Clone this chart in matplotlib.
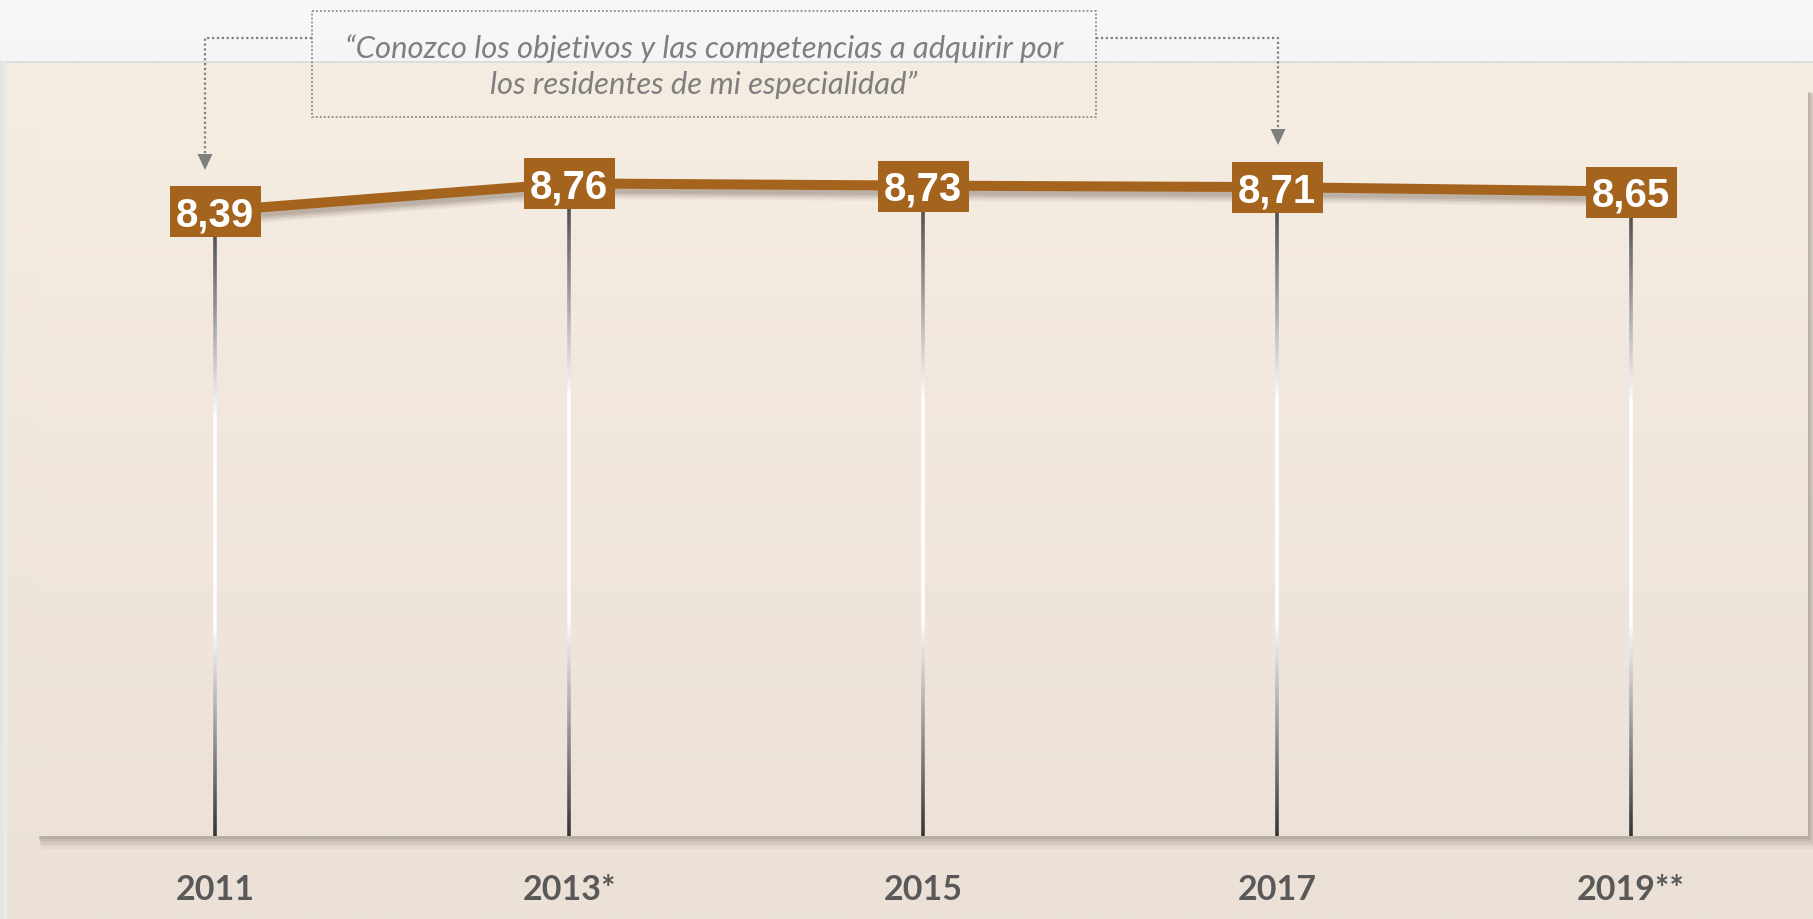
import numpy as np
import matplotlib
matplotlib.use('Agg')
import matplotlib.pyplot as plt
import matplotlib.colors as mcolors
import matplotlib.transforms as mtransforms
from matplotlib.path import Path
from matplotlib.patches import Rectangle, Polygon
from matplotlib.collections import LineCollection

# ---------------- data ----------------
years = ['2011', '2013*', '2015', '2017', '2019**']
values = [8.39, 8.76, 8.73, 8.71, 8.65]
value_labels = ['8,39', '8,76', '8,73', '8,71', '8,65']
quote_text = ("\u201cConozco los objetivos y las competencias a adquirir por\n"
              "los residentes de mi especialidad\u201d")

# ---------------- styles ----------------
W, H = 1813, 920
ORANGE = '#A5641E'
GREY_TXT = '#595959'
QUOTE_C = '#7F7F7F'

fig = plt.figure(figsize=(W / 100, H / 100), dpi=100)

# background axes in pixel coordinates (y downward)
bg = fig.add_axes([0, 0, 1, 1], zorder=0)
bg.set_axis_off()


def vgrad(ax, x0, x1, y0, y1, c_top, c_bot, z):
    ct = np.array(mcolors.to_rgb(c_top))
    cb = np.array(mcolors.to_rgb(c_bot))
    t = np.linspace(0, 1, 256)[:, None]
    img = (ct * (1 - t) + cb * t)[:, None, :]
    ax.imshow(img, extent=(x0, x1, y1, y0), aspect='auto', origin='upper',
              zorder=z, interpolation='bilinear')


def hgrad(ax, x0, x1, y0, y1, c_l, c_r, z):
    cl = np.array(mcolors.to_rgb(c_l))
    cr = np.array(mcolors.to_rgb(c_r))
    t = np.linspace(0, 1, 64)[None, :]
    img = (cl[None, None, :] * (1 - t)[..., None] + cr[None, None, :] * t[..., None])
    ax.imshow(img, extent=(x0, x1, y1, y0), aspect='auto', origin='upper',
              zorder=z, interpolation='bilinear')


# page background
vgrad(bg, 0, W, 0, 62, '#F9F9F9', '#F5F5F5', 0)
hgrad(bg, 0, 7, 62, H, '#E2E2E2', '#EDEDED', 0)
vgrad(bg, 7, W, 62, H, '#F5ECE2', '#EBE1D6', 1)
bg.plot([7, W], [62.5, 62.5], color='#DADADA', lw=1.2, zorder=2)

# inner panel with soft shadow
px0, px1, py0, py1 = 38, 1808, 92, 837
for d, a in [(10, 0.05), (8, 0.07), (6, 0.09), (4, 0.12), (2, 0.15)]:
    bg.add_patch(Rectangle((px0 + d * 0.3, py0 + d * 0.3), px1 - px0 + d * 0.7,
                           py1 - py0 + d, facecolor='#6F6357', alpha=a,
                           edgecolor='none', zorder=2))
vgrad(bg, px0, px1, py0, py1, '#F5ECE2', '#ECE2D7', 3)

# quote box with dotted connectors
bg.add_patch(Rectangle((312, 12), 1096 - 312, 118 - 12, facecolor='none',
                       edgecolor='#8C8C8C', lw=1.3, linestyle=(0, (1, 1.2)),
                       zorder=5))
bg.text(704, 67, quote_text, ha='center', va='center', color=QUOTE_C,
        fontsize=22.3, style='italic', family='Lato', linespacing=1.32,
        zorder=6)
bg.plot([312, 205, 205], [39, 39, 156], color='#7F7F7F', lw=1.6,
        linestyle=(0, (1, 1.2)), zorder=5)
bg.add_patch(Polygon([[197.5, 155], [212.5, 155], [205, 171]], closed=True,
                     facecolor='#7F7F7F', edgecolor='none', zorder=5))
bg.plot([1096, 1278, 1278], [39, 39, 131], color='#7F7F7F', lw=1.6,
        linestyle=(0, (1, 1.2)), zorder=5)
bg.add_patch(Polygon([[1270.5, 130], [1285.5, 130], [1278, 146]], closed=True,
                     facecolor='#7F7F7F', edgecolor='none', zorder=5))
bg.set_xlim(0, W)
bg.set_ylim(H, 0)

# ---------------- main chart ----------------
ax = fig.add_axes([px0 / W, (H - py1) / H, (px1 - px0) / W, (py1 - py0) / H],
                  zorder=2)
ax.set_facecolor('none')
ax.set_xlim(-0.5, len(years) - 0.5)
ax.set_ylim(0, 10)
for s in ax.spines.values():
    s.set_visible(False)
ax.set_yticks([])
x = np.arange(len(years))
ax.set_xticks(x)
ax.set_xticklabels(years)
ax.tick_params(axis='x', length=0, pad=27, labelsize=24.5, labelcolor=GREY_TXT)
for lbl in ax.get_xticklabels():
    lbl.set_fontfamily('Lato')
    lbl.set_fontweight('bold')

px_per_unit = (py1 - py0) / 10.0
box_w, box_h = 91, 51
half_h = (box_h / 2) / px_per_unit

# gradient drop lines
for xi, v in zip(x, values):
    y_top = v - half_h
    ys = np.linspace(y_top, 0, 300)
    segs = [[(xi, ys[k]), (xi, ys[k + 1])] for k in range(len(ys) - 1)]
    t = (y_top - ys[:-1]) / y_top
    g = np.interp(t, [0, 0.3, 0.65, 1.0], [0.32, 1.0, 1.0, 0.2])
    cols = np.stack([g, g, g, np.ones_like(g)], axis=1)
    ax.add_collection(LineCollection(segs, colors=cols, linewidths=2.6,
                                     zorder=2, capstyle='butt'))

# line shadow
for d, a in [(10, 0.06), (8, 0.09), (6, 0.12), (4, 0.14)]:
    tr = ax.transData + mtransforms.ScaledTranslation(0, -d / 100,
                                                      fig.dpi_scale_trans)
    ax.plot(x, values, color='#5A4A3C', lw=8, alpha=a, transform=tr,
            zorder=3, solid_capstyle='butt')

# main line
ax.plot(x, values, color=ORANGE, lw=7.2, zorder=4, solid_capstyle='butt')

# boxes
hw, hh = box_w / 2, box_h / 2
box_path = Path([(-hw, -hh), (hw, -hh), (hw, hh), (-hw, hh), (-hw, -hh)],
                [Path.MOVETO, Path.LINETO, Path.LINETO, Path.LINETO,
                 Path.CLOSEPOLY])
ax.plot(x, values, linestyle='none', marker=box_path,
        markersize=box_w * 72 / 100, markerfacecolor=ORANGE,
        markeredgewidth=0, zorder=5)

for xi, v, lab in zip(x, values, value_labels):
    ax.annotate(lab, (xi, v), xytext=(0, -10.3), textcoords='offset points',
                ha='center', va='baseline', color='white', fontsize=29,
                fontweight='bold', family='Liberation Sans', zorder=6)

fig.savefig('out.png', dpi=100)
